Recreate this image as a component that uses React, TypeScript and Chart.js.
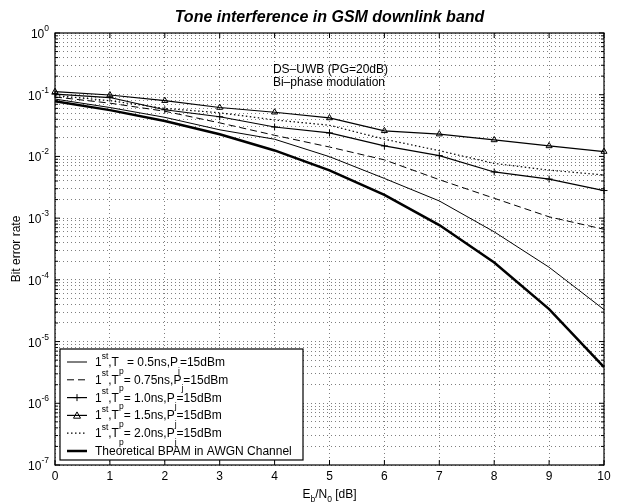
import React, { useEffect, useRef } from "react";
import { Chart, registerables } from "chart.js";

Chart.register(...registerables);

// ---------------- data ----------------
const ebn0 = [0, 1, 2, 3, 4, 5, 6, 7, 8, 9, 10];
const berTp05 = [0.085, 0.062, 0.043, 0.027, 0.019, 0.0099, 0.0044, 0.0019, 0.0006, 0.00016, 0.000033];
const berTp075 = [0.092, 0.073, 0.054, 0.035, 0.022, 0.0142, 0.0088, 0.0042, 0.0021, 0.00105, 0.00066];
const berTp10 = [0.102, 0.09, 0.057, 0.044, 0.03, 0.024, 0.0148, 0.0103, 0.0056, 0.0043, 0.0028];
const berTp15 = [0.112, 0.099, 0.08, 0.062, 0.052, 0.042, 0.026, 0.023, 0.0185, 0.0148, 0.012];
const berTp20 = [0.097, 0.08, 0.06, 0.051, 0.039, 0.032, 0.019, 0.0124, 0.0077, 0.006, 0.005];
const berTheory = [0.0786, 0.0563, 0.0375, 0.0229, 0.0125, 0.00595, 0.00239, 0.000773, 0.000191, 0.0000336, 0.00000387];

const seriesLabels = [
  "1^{st},T_{p} = 0.5ns,P_{j}=15dBm",
  "1^{st},T_{p}= 0.75ns,P_{j}=15dBm",
  "1^{st},T_{p}= 1.0ns,P_{j}=15dBm",
  "1^{st},T_{p}= 1.5ns,P_{j}=15dBm",
  "1^{st},T_{p}= 2.0ns,P_{j}=15dBm",
  "Theoretical BPAM in AWGN Channel",
];

const titleText = "Tone interference in GSM downlink band";
const xTitle = "E_{b}/N_{0} [dB]";
const yTitle = "Bit error rate";
const annotationLines = ["DS\u2013UWB (PG=20dB)", "Bi\u2013phase modulation"];
const annotX = 3.97;
const annotY = 0.225;

const xTickValues = [0, 1, 2, 3, 4, 5, 6, 7, 8, 9, 10];
const xTickLabels = ["0", "1", "2", "3", "4", "5", "6", "7", "8", "9", "10"];
const yTickValues = [1, 1e-1, 1e-2, 1e-3, 1e-4, 1e-5, 1e-6, 1e-7];
const yTickLabels = ["10^{0}", "10^{-1}", "10^{-2}", "10^{-3}", "10^{-4}", "10^{-5}", "10^{-6}", "10^{-7}"];
const yMinorMultipliers = [2, 3, 4, 5, 6, 7, 8, 9];

// ---------------- helpers ----------------
const FONT = '"Liberation Sans", Arial, Helvetica, sans-serif';

type Part = { t: string; k: number };
function parseRich(s: string): Part[] {
  const parts: Part[] = [];
  const re = /([\^_])\{([^}]*)\}/g;
  let last = 0;
  let m: RegExpExecArray | null;
  while ((m = re.exec(s))) {
    if (m.index > last) parts.push({ t: s.slice(last, m.index), k: 0 });
    parts.push({ t: m[2], k: m[1] === "^" ? 1 : -1 });
    last = re.lastIndex;
  }
  if (last < s.length) parts.push({ t: s.slice(last), k: 0 });
  return parts;
}

function drawRich(
  ctx: CanvasRenderingContext2D,
  s: string,
  x: number,
  y: number,
  size: number,
  align: "left" | "center" | "right",
  supOff = 7,
  subOff = 7,
  small = 8.5
) {
  const parts = parseRich(s);
  const fontFor = (k: number) => `${k === 0 ? size : small}px ${FONT}`;
  let w = 0;
  for (const p of parts) {
    ctx.font = fontFor(p.k);
    w += ctx.measureText(p.t).width;
  }
  let cx = align === "left" ? x : align === "center" ? x - w / 2 : x - w;
  ctx.textAlign = "left";
  ctx.textBaseline = "alphabetic";
  for (const p of parts) {
    ctx.font = fontFor(p.k);
    const dy = p.k === 1 ? -supOff : p.k === -1 ? subOff : 0;
    ctx.fillText(p.t, cx, y + dy);
    cx += ctx.measureText(p.t).width;
  }
}

const yGridValues: number[] = [];
for (const v of yTickValues) {
  yGridValues.push(v);
  if (v < 1) for (const m of yMinorMultipliers) yGridValues.push(v * m);
}
yGridValues.sort((a, b) => a - b);

const isMajorY = (v: number) => yTickValues.some((t) => Math.abs(Math.log10(v) - Math.log10(t)) < 1e-6);

type Style = {
  width: number;
  dash: number[];
  marker: "none" | "cross" | "triangle";
};
const styles: Style[] = [
  { width: 1, dash: [], marker: "none" },
  { width: 1, dash: [7, 4], marker: "none" },
  { width: 1.2, dash: [], marker: "cross" },
  { width: 1.2, dash: [], marker: "triangle" },
  { width: 1.2, dash: [1.5, 2.5], marker: "none" },
  { width: 2.5, dash: [], marker: "none" },
];
const seriesData = [berTp05, berTp075, berTp10, berTp15, berTp20, berTheory];

function drawMarker(ctx: CanvasRenderingContext2D, kind: string, x: number, y: number) {
  ctx.save();
  ctx.setLineDash([]);
  ctx.lineWidth = 1;
  ctx.strokeStyle = "#000";
  if (kind === "cross") {
    ctx.beginPath();
    ctx.moveTo(x - 3.5, y);
    ctx.lineTo(x + 3.5, y);
    ctx.moveTo(x, y - 3.5);
    ctx.lineTo(x, y + 3.5);
    ctx.stroke();
  } else if (kind === "triangle") {
    const r = 3.5;
    ctx.beginPath();
    ctx.moveTo(x, y - r);
    ctx.lineTo(x + r, y + r * 0.8);
    ctx.lineTo(x - r, y + r * 0.8);
    ctx.closePath();
    ctx.stroke();
  }
  ctx.restore();
}

const overlayPlugin = {
  id: "matlabOverlay",
  afterDraw(chart: any) {
    const { ctx, chartArea: a, scales } = chart;
    const xs = scales.x;
    const ys = scales.y;
    ctx.save();
    ctx.setLineDash([]);
    ctx.strokeStyle = "#000";
    ctx.fillStyle = "#000";

    // frame
    ctx.lineWidth = 1.2;
    ctx.strokeRect(a.left, a.top, a.right - a.left, a.bottom - a.top);

    // inward ticks
    ctx.lineWidth = 1;
    ctx.beginPath();
    for (const v of xTickValues) {
      const px = xs.getPixelForValue(v);
      ctx.moveTo(px, a.bottom);
      ctx.lineTo(px, a.bottom - 5);
      ctx.moveTo(px, a.top);
      ctx.lineTo(px, a.top + 5);
    }
    for (const v of yGridValues) {
      const py = ys.getPixelForValue(v);
      const len = isMajorY(v) ? 5 : 3;
      ctx.moveTo(a.left, py);
      ctx.lineTo(a.left + len, py);
      ctx.moveTo(a.right, py);
      ctx.lineTo(a.right - len, py);
    }
    ctx.stroke();

    // x tick labels
    ctx.font = `12px ${FONT}`;
    ctx.textAlign = "center";
    ctx.textBaseline = "middle";
    xTickValues.forEach((v, i) => {
      ctx.fillText(xTickLabels[i], xs.getPixelForValue(v), a.bottom + 12);
    });

    // y tick labels
    yTickValues.forEach((v, i) => {
      const py = ys.getPixelForValue(v);
      drawRich(ctx, yTickLabels[i], a.left - 6, py + 5, 12, "right", 7, 7, 8.5);
    });

    // title
    ctx.font = `italic bold 16px ${FONT}`;
    ctx.textAlign = "center";
    ctx.textBaseline = "alphabetic";
    ctx.fillText(titleText, (a.left + a.right) / 2, a.top - 11);

    // x title
    drawRich(ctx, xTitle, (a.left + a.right) / 2, a.bottom + 33, 12, "center", 6, 3.5, 8.5);

    // y title
    ctx.save();
    ctx.translate(17, (a.top + a.bottom) / 2);
    ctx.rotate(-Math.PI / 2);
    ctx.font = `12px ${FONT}`;
    ctx.textAlign = "center";
    ctx.textBaseline = "middle";
    ctx.fillText(yTitle, 0, 0);
    ctx.restore();

    // annotation
    ctx.font = `12px ${FONT}`;
    ctx.textAlign = "left";
    ctx.textBaseline = "alphabetic";
    const ax = xs.getPixelForValue(annotX);
    const ay = ys.getPixelForValue(annotY);
    annotationLines.forEach((t, i) => ctx.fillText(t, ax, ay + i * 13.5));

    // legend
    const lx0 = a.left + 5;
    const ly0 = a.bottom - 116;
    const lw = 243;
    const lh = 111;
    ctx.fillStyle = "#fff";
    ctx.fillRect(lx0, ly0, lw, lh);
    ctx.strokeStyle = "#000";
    ctx.lineWidth = 1.2;
    ctx.strokeRect(lx0, ly0, lw, lh);
    ctx.fillStyle = "#000";
    seriesLabels.forEach((lab, i) => {
      const base = ly0 + 17 + i * 17.8;
      const my = base - 4;
      const st = styles[i];
      ctx.save();
      ctx.lineWidth = st.width;
      ctx.setLineDash(st.dash);
      ctx.beginPath();
      ctx.moveTo(lx0 + 7, my);
      ctx.lineTo(lx0 + 27, my);
      ctx.stroke();
      ctx.restore();
      if (st.marker !== "none") drawMarker(ctx, st.marker, lx0 + 17, my);
      drawRich(ctx, lab, lx0 + 35, base, 12, "left", 7.5, 7.5, 8.5);
    });

    ctx.restore();
  },
};

export default function App() {
  const ref = useRef<HTMLCanvasElement | null>(null);
  useEffect(() => {
    if (!ref.current) return;
    const datasets = seriesData.map((arr, i) => {
      const st = styles[i];
      return {
        label: seriesLabels[i],
        data: ebn0.map((x, j) => ({ x, y: arr[j] })),
        borderColor: "#000",
        backgroundColor: "rgba(0,0,0,0)",
        borderWidth: st.width,
        borderDash: st.dash,
        pointRadius: st.marker === "none" ? 0 : 3.5,
        pointStyle: st.marker === "cross" ? "cross" : st.marker === "triangle" ? "triangle" : "circle",
        pointBorderColor: "#000",
        pointBackgroundColor: "rgba(0,0,0,0)",
        pointBorderWidth: 1,
        tension: 0,
        fill: false,
        clip: false,
      };
    });
    const chart = new Chart(ref.current, {
      type: "line",
      data: { datasets },
      options: {
        animation: false,
        responsive: false,
        devicePixelRatio: 1,
        layout: { padding: { left: 55, top: 33, right: 14, bottom: 39 } },
        plugins: {
          legend: { display: false },
          tooltip: { enabled: false },
          title: { display: false },
        },
        scales: {
          x: {
            type: "linear",
            min: 0,
            max: 10,
            ticks: { display: false, stepSize: 1 },
            grid: { display: true, drawTicks: false, color: "rgba(0,0,0,0.5)", lineWidth: 1 },
            border: { display: false, dash: [1, 3] },
          },
          y: {
            type: "logarithmic",
            min: 1e-7,
            max: 1,
            afterBuildTicks: (scale: any) => {
              scale.ticks = yGridValues.map((v) => ({ value: v }));
            },
            ticks: { display: false },
            grid: { display: true, drawTicks: false, color: "rgba(0,0,0,0.5)", lineWidth: 1 },
            border: { display: false, dash: [1, 3] },
          },
        },
      },
      plugins: [overlayPlugin],
    } as any);
    return () => chart.destroy();
  }, []);
  return (
    <div style={{ position: "fixed", left: 0, top: 0, width: 618, height: 504, background: "#fff" }}>
      <canvas ref={ref} width={618} height={504} style={{ display: "block" }} />
    </div>
  );
}
